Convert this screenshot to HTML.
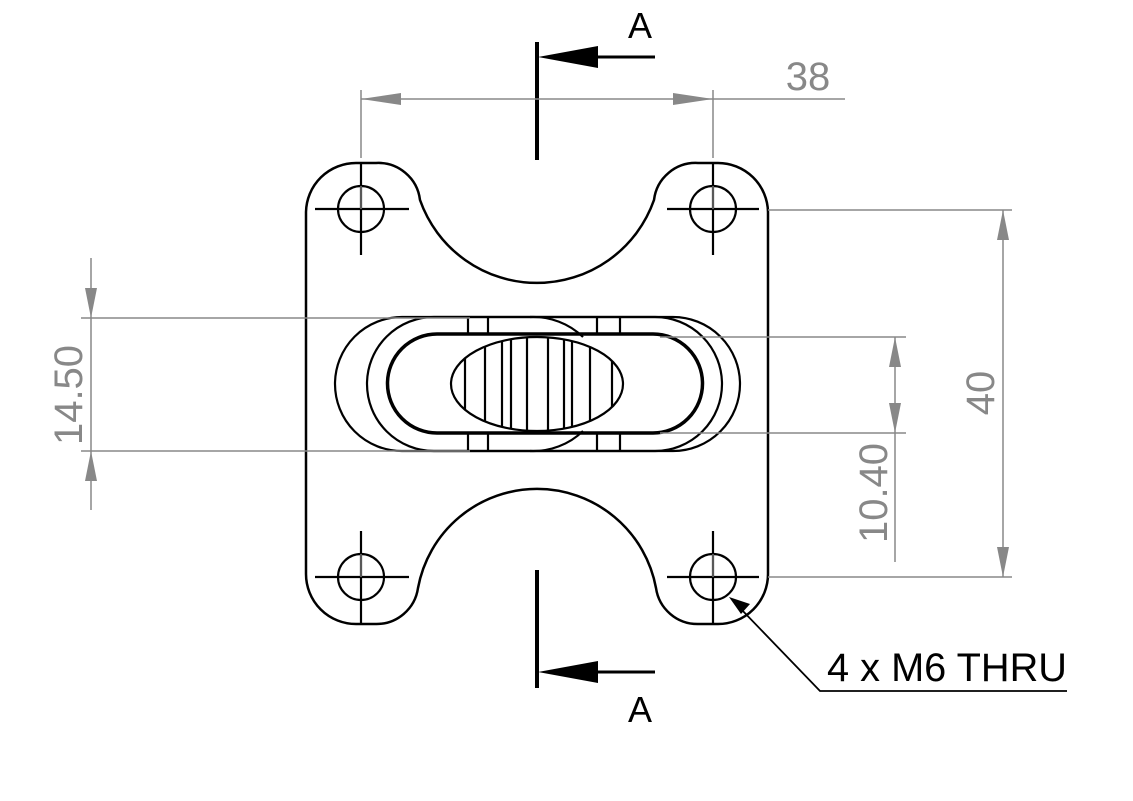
<!DOCTYPE html>
<html><head><meta charset="utf-8"><style>html,body{margin:0;padding:0;background:#fff}svg{display:block}</style></head>
<body>
<svg width="1133" height="801" viewBox="0 0 1133 801" xmlns="http://www.w3.org/2000/svg" font-family="Liberation Sans, sans-serif">
<defs>
<clipPath id="el"><ellipse cx="537" cy="384" rx="86" ry="47"/></clipPath>
</defs>
<path d="M306,212 A50,50 0 0 1 356,163 L376,163 A42,42 0 0 1 420,200 A124,124 0 0 0 654,200 A42,42 0 0 1 698,163 L718,163 A50,50 0 0 1 768,212 L768,574 A50,50 0 0 1 718,624 L698,624 A42,42 0 0 1 656,588 A121,121 0 0 0 418,588 A42,42 0 0 1 376,624 L356,624 A50,50 0 0 1 306,574 Z" fill="none" stroke="#000" stroke-width="2.5"/>
<g fill="none" stroke="#000" stroke-width="2.2">
<circle cx="361" cy="209" r="23"/><circle cx="713" cy="209" r="23"/>
<circle cx="361" cy="577" r="23"/><circle cx="713" cy="577" r="23"/>
<path d="M315,209H409M361,163V255M667,209H759M713,163V255M315,577H409M361,531V623M667,577H759M713,531V623"/>
</g>
<g stroke="#888" stroke-width="1.3" fill="none">
<path d="M361,186V209M713,186V209M361,554V577M713,554V577"/>
</g>
<g fill="none" stroke="#000" stroke-width="2.2">
<path d="M402,317 H673 A67,67 0 0 1 673,451 H402 A67,67 0 0 1 402,317 Z"/>
<path d="M434,317 H655 A67,67 0 0 1 655,451 H434 A67,67 0 0 1 434,317 Z"/>
<path d="M530,317 A70,67 0 0 1 583,337 M583,431 A70,67 0 0 1 530,451"/>
<ellipse cx="537" cy="384" rx="86" ry="47"/>
<path d="M468,317V334M488,317V334M597,317V334M620,317V334M468,433V451M488,433V451M597,433V451M620,433V451"/>
<g clip-path="url(#el)"><path d="M465,330V440M485,330V440M502,330V440M511,330V440M527,330V440M548,330V440M564,330V440M572,330V440M590,330V440M612,330V440"/></g>
</g>
<path d="M437,334 H653 A49.5,49.5 0 0 1 653,433 H437 A49.5,49.5 0 0 1 437,334 Z" fill="none" stroke="#000" stroke-width="3.5"/>
<g stroke="#000" fill="#000">
<path d="M537,42V160M537,570V688" stroke-width="4"/>
<path d="M590,57H655M590,672H655" stroke-width="3"/>
<path d="M538,57L598,46L598,68Z" stroke="none"/>
<path d="M538,672L598,661L598,683Z" stroke="none"/>
</g>
<text x="640" y="38" font-size="36" text-anchor="middle" fill="#000">A</text>
<text x="640" y="722" font-size="36" text-anchor="middle" fill="#000">A</text>
<g stroke="#888" stroke-width="1.5" fill="none">
<path d="M361,90V158M713,90V158M361,99H845"/>
<path d="M768,210H1012M768,577H1012M1003,210V577"/>
<path d="M660,337H906M660,433H906M895,337V562"/>
<path d="M81,318H470M81,451H470M91,258V510"/>
</g>
<g fill="#888">
<path d="M361,99L401,93L401,105Z M713,99L673,93L673,105Z"/>
<path d="M1003,210L997,240L1009,240Z M1003,577L997,547L1009,547Z"/>
<path d="M895,337L889,367L901,367Z M895,433L889,403L901,403Z"/>
<path d="M91,318L85,288L97,288Z M91,451L85,481L97,481Z"/>
</g>
<g fill="#888" font-size="40">
<text x="808" y="90" text-anchor="middle">38</text>
<text transform="translate(994,393) rotate(-90)" text-anchor="middle">40</text>
<text transform="translate(887,493) rotate(-90)" text-anchor="middle">10.40</text>
<text transform="translate(82,395) rotate(-90)" text-anchor="middle">14.50</text>
</g>
<path d="M740,608L820,691H1067" stroke="#000" stroke-width="1.8" fill="none"/>
<path d="M729,597L750,604L741,614Z" fill="#000"/>
<text x="827" y="681" font-size="40" textLength="240" lengthAdjust="spacingAndGlyphs" fill="#000">4 x M6 THRU</text>
</svg>
</body></html>
